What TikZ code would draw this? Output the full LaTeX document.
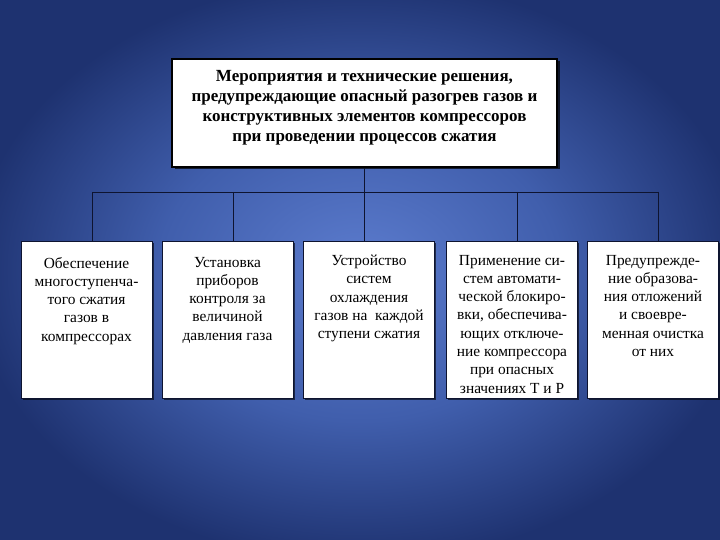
\documentclass[tikz,border=0pt]{standalone}
\usepackage{fontspec}
\setmainfont{Liberation Serif}
\usetikzlibrary{shadows}
\definecolor{bgin}{RGB}{92,124,206}
\definecolor{bgmid}{RGB}{64,94,172}
\definecolor{bgout}{RGB}{30,50,112}
\definecolor{linec}{RGB}{14,20,48}
\pgfdeclareradialshading{bgshade}{\pgfpoint{0bp}{0bp}}{color(0bp)=(bgin); color(14bp)=(bgmid); color(27bp)=(bgout); color(50bp)=(bgout)}
\newcommand{\toptext}[1]{\parbox[c][108pt][t]{385pt}{\centering\fontsize{17}{20}\selectfont\bfseries\vspace*{11pt}#1}}
\newcommand{\celltext}[2]{\parbox[c][157pt][t]{131pt}{\centering\fontsize{15.4}{18.3}\selectfont\vspace*{#1}#2}}
\tikzset{
  topbox/.style={draw=black, line width=1.6pt, fill=white, inner sep=0pt,
    drop shadow={shadow xshift=2.5pt, shadow yshift=-2.5pt, opacity=0.7, fill=black}},
  cellbox/.style={draw=linec, line width=0.9pt, fill=white, inner sep=0pt,
    drop shadow={shadow xshift=1.5pt, shadow yshift=-1.5pt, opacity=0.6, fill=black}},
  conn/.style={draw=linec, line width=0.8pt}
}
\begin{document}
\begin{tikzpicture}[x=1pt,y=-1pt]
\useasboundingbox (0,0) rectangle (720,540);
\shade[shading=bgshade] (0,0) rectangle (720,540);
\node[topbox] (top) at (364.5,113) {\toptext{Мероприятия и технические решения,\\ предупреждающие опасный разогрев газов и\\ конструктивных элементов компрессоров\\ при проведении процессов сжатия}};
\node[cellbox] (c1) at (86.5,319.5) {\celltext{16pt}{Обеспечение\\ многоступенча-\\ того сжатия\\ газов в\\ компрессорах}};
\node[cellbox] (c2) at (227.5,319.5) {\celltext{16pt}{Установка\\ приборов\\ контроля за\\ величиной\\ давления газа}};
\node[cellbox] (c3) at (369,319.5) {\celltext{14pt}{Устройство\\ систем\\ охлаждения\\ газов на~ каждой\\ ступени сжатия}};
\node[cellbox] (c4) at (512,319.5) {\celltext{14pt}{Применение си-\\ стем автомати-\\ ческой блокиро-\\ вки, обеспечива-\\ ющих отключе-\\ ние компрессора\\ при опасных\\ значениях Т и Р}};
\node[cellbox] (c5) at (653,319.5) {\celltext{14pt}{Предупрежде-\\ ние образова-\\ ния отложений\\ и своевре-\\ менная очистка\\ от них}};
\coordinate (b1) at (92,192);
\coordinate (b2) at (233,192);
\coordinate (b4) at (517,192);
\coordinate (b5) at (658,192);
\draw[conn] (b1) -- (b5);
\draw[conn] (top.south) -- (top.south |- c3.north);
\draw[conn] (b1) -- (b1 |- c1.north);
\draw[conn] (b2) -- (b2 |- c2.north);
\draw[conn] (b4) -- (b4 |- c4.north);
\draw[conn] (b5) -- (b5 |- c5.north);
\end{tikzpicture}
\end{document}
